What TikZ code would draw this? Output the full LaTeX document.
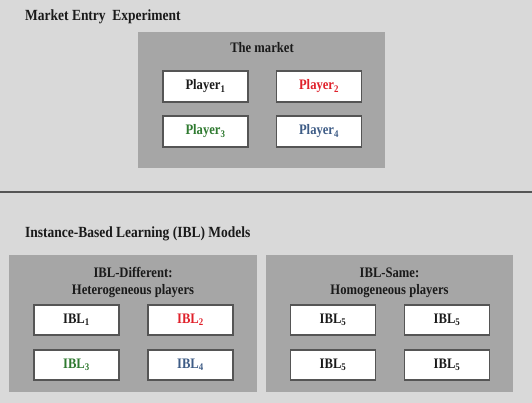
\documentclass[tikz,border=0pt]{standalone}
\usepackage{fontspec}
\setmainfont[FakeStretch=0.87]{Liberation Serif}
\definecolor{bg}{HTML}{D9D9D9}
\definecolor{panelgray}{HTML}{A6A6A6}
\definecolor{edge}{HTML}{555555}
\definecolor{pred}{HTML}{E0202A}
\definecolor{pgreen}{HTML}{2F7A30}
\definecolor{pblue}{HTML}{3E5C86}
\definecolor{ink}{HTML}{1A1A1A}
\begin{document}
\begin{tikzpicture}[x=1pt,y=-1pt,
  panel/.style={fill=panelgray, draw=none, inner sep=0pt},
  playerbox/.style={draw=edge, line width=1.1pt, fill=white, minimum width=85pt, minimum height=31pt, inner sep=0pt, font=\fontsize{14.5}{16}\selectfont\bfseries, text=ink},
  ibox/.style={playerbox, minimum height=30pt},
  heading/.style={font=\fontsize{15.5}{18}\selectfont\bfseries, text=ink, anchor=base west, inner sep=0pt},
  sublabel/.style={font=\fontsize{14.5}{17}\selectfont\bfseries, text=ink, anchor=base, inner sep=0pt, align=center}
]
\fill[bg] (0,0) rectangle (532,403);
\useasboundingbox (0,0) rectangle (532,403);

% top section
\node[heading] (t1) at (25,20.5) {Market Entry\ \ Experiment};
\node[panel, minimum width=247pt, minimum height=136pt] (market) at (261.5,100) {};
\node[sublabel] (mk) at (262,53) {The market};
\node[playerbox] (p1) at (205.5,86.5) {Player\textsubscript{1}};
\node[playerbox, text=pred] (p2) at (319,86.5) {Player\textsubscript{2}};
\node[playerbox, text=pgreen] (p3) at (205.5,131.5) {Player\textsubscript{3}};
\node[playerbox, text=pblue] (p4) at (319,131.5) {Player\textsubscript{4}};

% separator
\coordinate (sl) at (0,192);
\coordinate (sr) at (532,192);
\draw[edge, line width=2pt] (sl) -- (sr);

% bottom section
\node[heading] (t2) at (25,237) {Instance-Based Learning (IBL) Models};
\node[panel, minimum width=248pt, minimum height=137pt] (left) at (133,323.5) {};
\node[panel, minimum width=247pt, minimum height=137pt] (right) at (389.5,323.5) {};
\node[sublabel] (lh1) at (133,277) {IBL-Different:};
\node[sublabel] (lh2) at (133,294.5) {Heterogeneous players};
\node[sublabel] (rh1) at (389.5,277) {IBL-Same:};
\node[sublabel] (rh2) at (389.5,294.5) {Homogeneous players};

\node[ibox] (a1) at (76.5,320) {IBL\textsubscript{1}};
\node[ibox, text=pred] (a2) at (190.5,320) {IBL\textsubscript{2}};
\node[ibox, text=pgreen] (a3) at (76.5,365) {IBL\textsubscript{3}};
\node[ibox, text=pblue] (a4) at (190.5,365) {IBL\textsubscript{4}};

\node[ibox] (b1) at (333,320) {IBL\textsubscript{5}};
\node[ibox] (b2) at (447,320) {IBL\textsubscript{5}};
\node[ibox] (b3) at (333,365) {IBL\textsubscript{5}};
\node[ibox] (b4) at (447,365) {IBL\textsubscript{5}};
\end{tikzpicture}
\end{document}
